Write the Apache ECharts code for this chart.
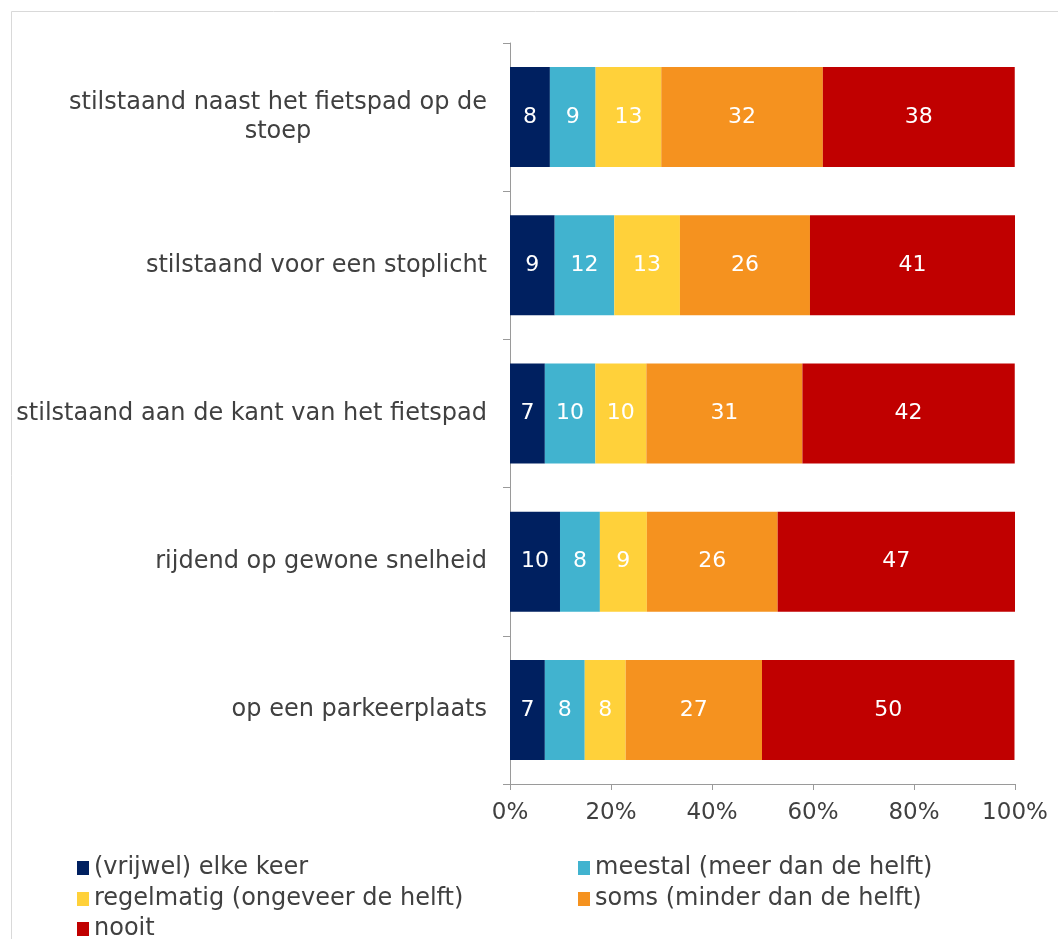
<!DOCTYPE html>
<html>
<head>
<meta charset="utf-8">
<script src="https://cdn.jsdelivr.net/npm/echarts@6/dist/echarts.min.js"></script>
<style>
html,body{margin:0;padding:0;background:#fff;}
#chart{width:1058px;height:939px;}
</style>
</head>
<body>
<div id="chart"></div>
<script>
const categories = [
  'stilstaand naast het fietspad op de\nstoep',
  'stilstaand voor een stoplicht',
  'stilstaand aan de kant van het fietspad',
  'rijdend op gewone snelheid',
  'op een parkeerplaats'
];
const seriesNames = [
  '(vrijwel) elke keer',
  'meestal (meer dan de helft)',
  'regelmatig (ongeveer de helft)',
  'soms (minder dan de helft)',
  'nooit'
];
const elkeKeer   = [7.9, 8.85, 6.9, 9.9, 6.9];
const meestal    = [9.05, 11.8, 10.0, 7.9, 7.9];
const regelmatig = [13.0, 13.0, 10.1, 9.3, 8.1];
const soms       = [32.0, 25.75, 30.9, 25.9, 27.0];
const nooit      = [38.0, 40.6, 42.05, 47.0, 50.0];
const xTicks = [0, 20, 40, 60, 80, 100];

const colors = ['#002060', '#41B3CF', '#FFD13A', '#F5921F', '#C00000'];
const seriesData = [elkeKeer, meestal, regelmatig, soms, nooit];
const FONT = 'DejaVu Sans';
const TXT = '#404040';

// legend placement (left, top) per series
const legendPos = [[77, 856], [578, 856], [77, 887], [578, 887], [77, 917]];

const chart = echarts.init(document.getElementById('chart'), null, {renderer: 'canvas'});
const option = {
  backgroundColor: '#fff',
  animation: false,
  textStyle: {fontFamily: FONT},
  graphic: [{
    type: 'rect',
    shape: {x: 11.5, y: 11.5, width: 1200, height: 1200},
    style: {fill: 'none', stroke: '#d9d9d9', lineWidth: 1},
    z: -10
  }],
  grid: {left: 510, right: 43, top: 43, bottom: 155, containLabel: false},
  xAxis: {
    type: 'value',
    min: xTicks[0],
    max: xTicks[xTicks.length - 1],
    interval: 20,
    axisLine: {show: true, lineStyle: {color: '#9a9a9a', width: 1}},
    axisTick: {show: true, length: 6, lineStyle: {color: '#9a9a9a'}},
    splitLine: {show: false},
    axisLabel: {
      formatter: '{value}%', color: TXT, fontSize: 23, fontFamily: FONT, margin: 18
    }
  },
  yAxis: {
    type: 'category',
    data: categories,
    inverse: true,
    axisLine: {show: true, lineStyle: {color: '#9a9a9a', width: 1}},
    axisTick: {show: true, length: 7, lineStyle: {color: '#9a9a9a'}},
    axisLabel: {
      color: TXT, fontSize: 24, fontFamily: FONT, margin: 23, lineHeight: 29,
      formatter: function (v) {
        if (v.indexOf('\n') >= 0) {
          return v.split('\n').map(l => '{c|' + l + '}').join('\n');
        }
        return v;
      },
      rich: {
        c: {width: 418, align: 'center', color: TXT, fontSize: 24, fontFamily: FONT, lineHeight: 29}
      }
    }
  },
  legend: seriesNames.map((name, i) => ({
    left: legendPos[i][0], top: legendPos[i][1], orient: 'horizontal',
    itemWidth: 12, itemHeight: 14, icon: 'rect', itemGap: 0, itemStyle: {borderWidth: 0},
    textStyle: {color: TXT, fontSize: 24, fontFamily: FONT, lineHeight: 24},
    padding: 0,
    data: [name]
  })),
  series: seriesNames.map((name, i) => ({
    name: name,
    type: 'bar',
    stack: 'total',
    barWidth: 100,
    data: seriesData[i],
    itemStyle: {color: colors[i]},
    label: {
      show: true,
      position: 'inside',
      color: '#fff',
      fontSize: 22,
      fontFamily: FONT,
      formatter: p => String(Math.round(p.value))
    }
  }))
};
chart.setOption(option);
</script>
</body>
</html>
